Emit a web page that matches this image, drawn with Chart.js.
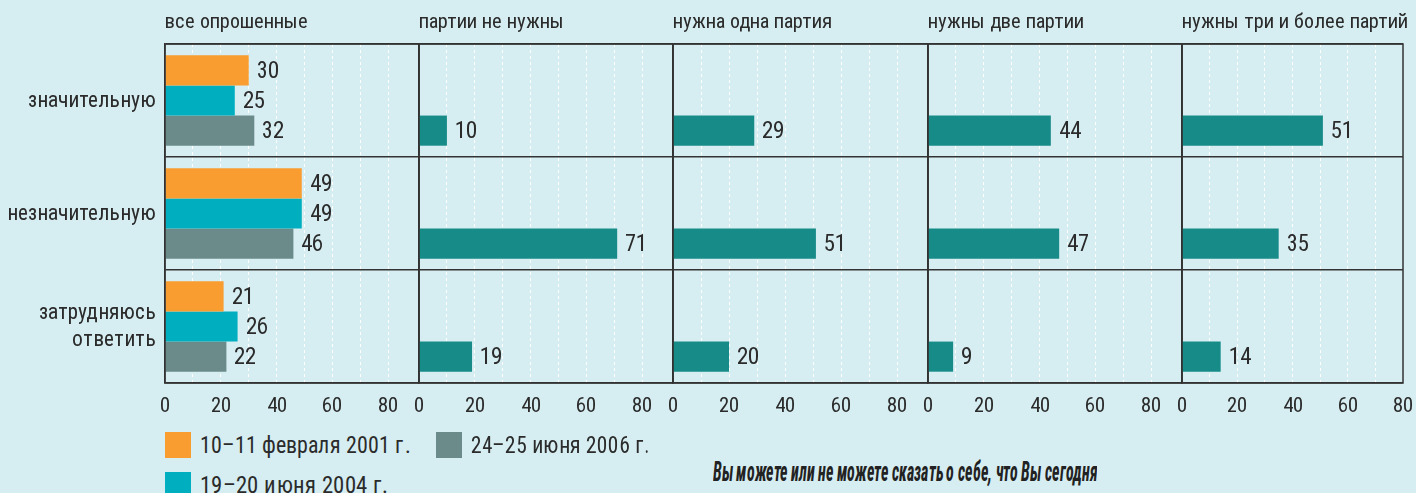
<!DOCTYPE html>
<html><head><meta charset="utf-8">
<script src="https://cdn.jsdelivr.net/npm/chart.js@4/dist/chart.umd.min.js"></script>
<style>
@font-face{font-family:'RC';src:local('Roboto Condensed'),local('RobotoCondensed-Regular');}
@font-face{font-family:'RC';font-weight:bold;font-style:italic;src:local('Roboto Condensed Bold Italic'),local('RobotoCondensed-BoldItalic'),local('Roboto Condensed Bold'),local('RobotoCondensed-Bold');}
html,body{margin:0;padding:0;background:#d6eef2;width:1416px;height:493px;overflow:hidden;position:relative;
  font-family:'RC','DejaVu Sans Condensed',sans-serif;color:#2b2b2b}
canvas{position:absolute;top:0}
.title{position:absolute;top:8px;font-size:20.5px;line-height:26px;white-space:nowrap}
.lg{position:absolute;height:26px}
.sw{position:absolute;left:0;top:0;width:26px;height:26px}
.lgt{position:absolute;left:35px;top:-2px;font-size:24px;line-height:30px;white-space:nowrap;transform-origin:left top}
.note{position:absolute;left:713px;top:456px;font-size:28px;line-height:32px;font-weight:bold;font-style:italic;white-space:nowrap;color:#222;transform-origin:left top}
</style></head><body>
<div id="root"></div>
<script>
// ---- data ----
const categories = ['значительную', 'незначительную', ['затрудняюсь', 'ответить']];
const panelTitles = ['все опрошенные', 'партии не нужны', 'нужна одна партия', 'нужны две партии', 'нужны три и более партий'];
const seriesNames = ['10–11 февраля 2001 г.', '19–20 июня 2004 г.', '24–25 июня 2006 г.'];
const feb2001 = [30, 49, 21];
const jun2004 = [25, 49, 26];
const jun2006 = [32, 46, 22];
const noParties = [10, 71, 19];
const oneParty = [29, 51, 20];
const twoParties = [44, 47, 9];
const threePlusParties = [51, 35, 14];
const xTickValues = [0, 10, 20, 30, 40, 50, 60, 70, 80];
const xMaxWide = 91;
const xMaxLast = 80;
const noteText = 'Вы можете или не можете сказать о себе, что Вы сегодня';

// ---- style ----
const FONT = "'RC','DejaVu Sans Condensed',sans-serif";
const seriesColors = ['#f99d31', '#00afbf', '#6b8b8a'];
const partyColor = '#178b88';
const ink = '#2b2b2b';
const panels = [
  {left: 165, right: 419}, {left: 419, right: 673}, {left: 673, right: 928},
  {left: 928, right: 1182}, {left: 1182, right: 1403}
];
const TOP = 44, BOTTOM = 383, CANVAS_H = 430;

const framePlugin = {
  id: 'frame',
  afterDraw(chart) {
    const {ctx, chartArea: a} = chart;
    ctx.save();
    ctx.strokeStyle = '#333';
    ctx.lineWidth = 1.5;
    ctx.strokeRect(a.left, a.top, a.right - a.left, a.bottom - a.top);
    ctx.restore();
  }
};
const valuePlugin = {
  id: 'values',
  afterDraw(chart) {
    const ctx = chart.ctx;
    ctx.save();
    ctx.font = '23px ' + FONT;
    ctx.fillStyle = ink;
    ctx.textAlign = 'left';
    ctx.textBaseline = 'middle';
    chart.data.datasets.forEach((ds, i) => {
      const meta = chart.getDatasetMeta(i);
      meta.data.forEach((bar, j) => {
        const v = ds.data[j];
        if (v == null) return;
        ctx.fillText(String(v), bar.x + 8, bar.y + 1);
      });
    });
    ctx.restore();
  }
};

function fitWidth(el, target) {
  const w = el.getBoundingClientRect().width;
  if (w > 0) el.style.transform = 'scaleX(' + (target / w) + ')';
}

function makePanel(idx, datasets, max) {
  const p = panels[idx];
  const first = idx === 0;
  const padL = first ? 0 : 20, padR = 21;
  const cvLeft = first ? 0 : p.left - padL;
  const cvW = (p.right - cvLeft) + padR;
  const cv = document.createElement('canvas');
  cv.width = cvW; cv.height = CANVAS_H;
  cv.style.left = cvLeft + 'px';
  cv.style.width = cvW + 'px'; cv.style.height = CANVAS_H + 'px';
  document.getElementById('root').appendChild(cv);

  const t = document.createElement('div');
  t.className = 'title';
  t.style.left = p.left + 'px';
  t.textContent = panelTitles[idx];
  document.body.appendChild(t);

  new Chart(cv, {
    type: 'bar',
    data: {labels: categories, datasets},
    options: {
      indexAxis: 'y',
      responsive: false,
      animation: false,
      events: [],
      devicePixelRatio: 1,
      layout: {padding: {top: TOP, left: padL, right: padR, bottom: 0}},
      plugins: {legend: {display: false}, tooltip: {enabled: false}, title: {display: false}},
      datasets: {bar: {barPercentage: 1, categoryPercentage: 0.8, borderWidth: 0}},
      scales: {
        x: {
          type: 'linear', position: 'bottom', min: 0, max, z: 1,
          afterBuildTicks: s => { s.ticks = xTickValues.map(v => ({value: v})); },
          afterFit: s => { s.height = CANVAS_H - BOTTOM; },
          ticks: {
            autoSkip: false, maxRotation: 0, padding: 10, color: ink,
            font: {family: FONT, size: 21},
            callback: v => (v % 20 === 0 ? String(v) : '')
          },
          grid: {
            drawTicks: false, lineWidth: 1,
            color: c => (c.tick && c.tick.value > 0 && c.tick.value < max ? '#ffffff' : 'rgba(0,0,0,0)')
          },
          border: {display: false, dash: [3, 3]}
        },
        y: {
          type: 'category', position: 'left',
          afterFit: s => { s.width = first ? p.left : 0; },
          ticks: {display: first, padding: 9, color: ink, font: {family: FONT, size: 21.5, lineHeight: 1.25}},
          grid: {color: '#333', lineWidth: 1.5, drawTicks: false, offset: true},
          border: {display: true, color: '#333', width: 1.5}
        }
      }
    },
    plugins: [framePlugin, valuePlugin]
  });
}

function build() {
  const empty = categories.map(() => null);
  makePanel(0, [
    {label: seriesNames[0], data: feb2001, backgroundColor: seriesColors[0]},
    {label: seriesNames[1], data: jun2004, backgroundColor: seriesColors[1]},
    {label: seriesNames[2], data: jun2006, backgroundColor: seriesColors[2]}
  ], xMaxWide);
  [noParties, oneParty, twoParties, threePlusParties].forEach((vals, k) => {
    makePanel(k + 1, [
      {data: empty, backgroundColor: partyColor},
      {data: empty, backgroundColor: partyColor},
      {label: panelTitles[k + 1], data: vals, backgroundColor: partyColor}
    ], k === 3 ? xMaxLast : xMaxWide);
  });

  // legend (column-major, 2 rows)
  const legendPos = [{left: 165, top: 432, w: 210}, {left: 165, top: 472, w: 188}, {left: 436, top: 432, w: 178}];
  seriesNames.forEach((name, i) => {
    const d = document.createElement('div');
    d.className = 'lg';
    d.style.left = legendPos[i].left + 'px';
    d.style.top = legendPos[i].top + 'px';
    const sw = document.createElement('span'); sw.className = 'sw'; sw.style.background = seriesColors[i];
    const tx = document.createElement('span'); tx.className = 'lgt'; tx.textContent = name;
    d.appendChild(sw); d.appendChild(tx);
    document.body.appendChild(d);
    fitWidth(tx, legendPos[i].w);
  });

  const note = document.createElement('div');
  note.className = 'note';
  note.textContent = noteText;
  document.body.appendChild(note);
  fitWidth(note, 384);
}

Promise.all([
  document.fonts.load("23px 'RC'", 'значительную 0123456789'),
  document.fonts.load("bold italic 22px 'RC'", 'Вы можете')
]).catch(() => {}).then(build);
</script>
</body></html>
